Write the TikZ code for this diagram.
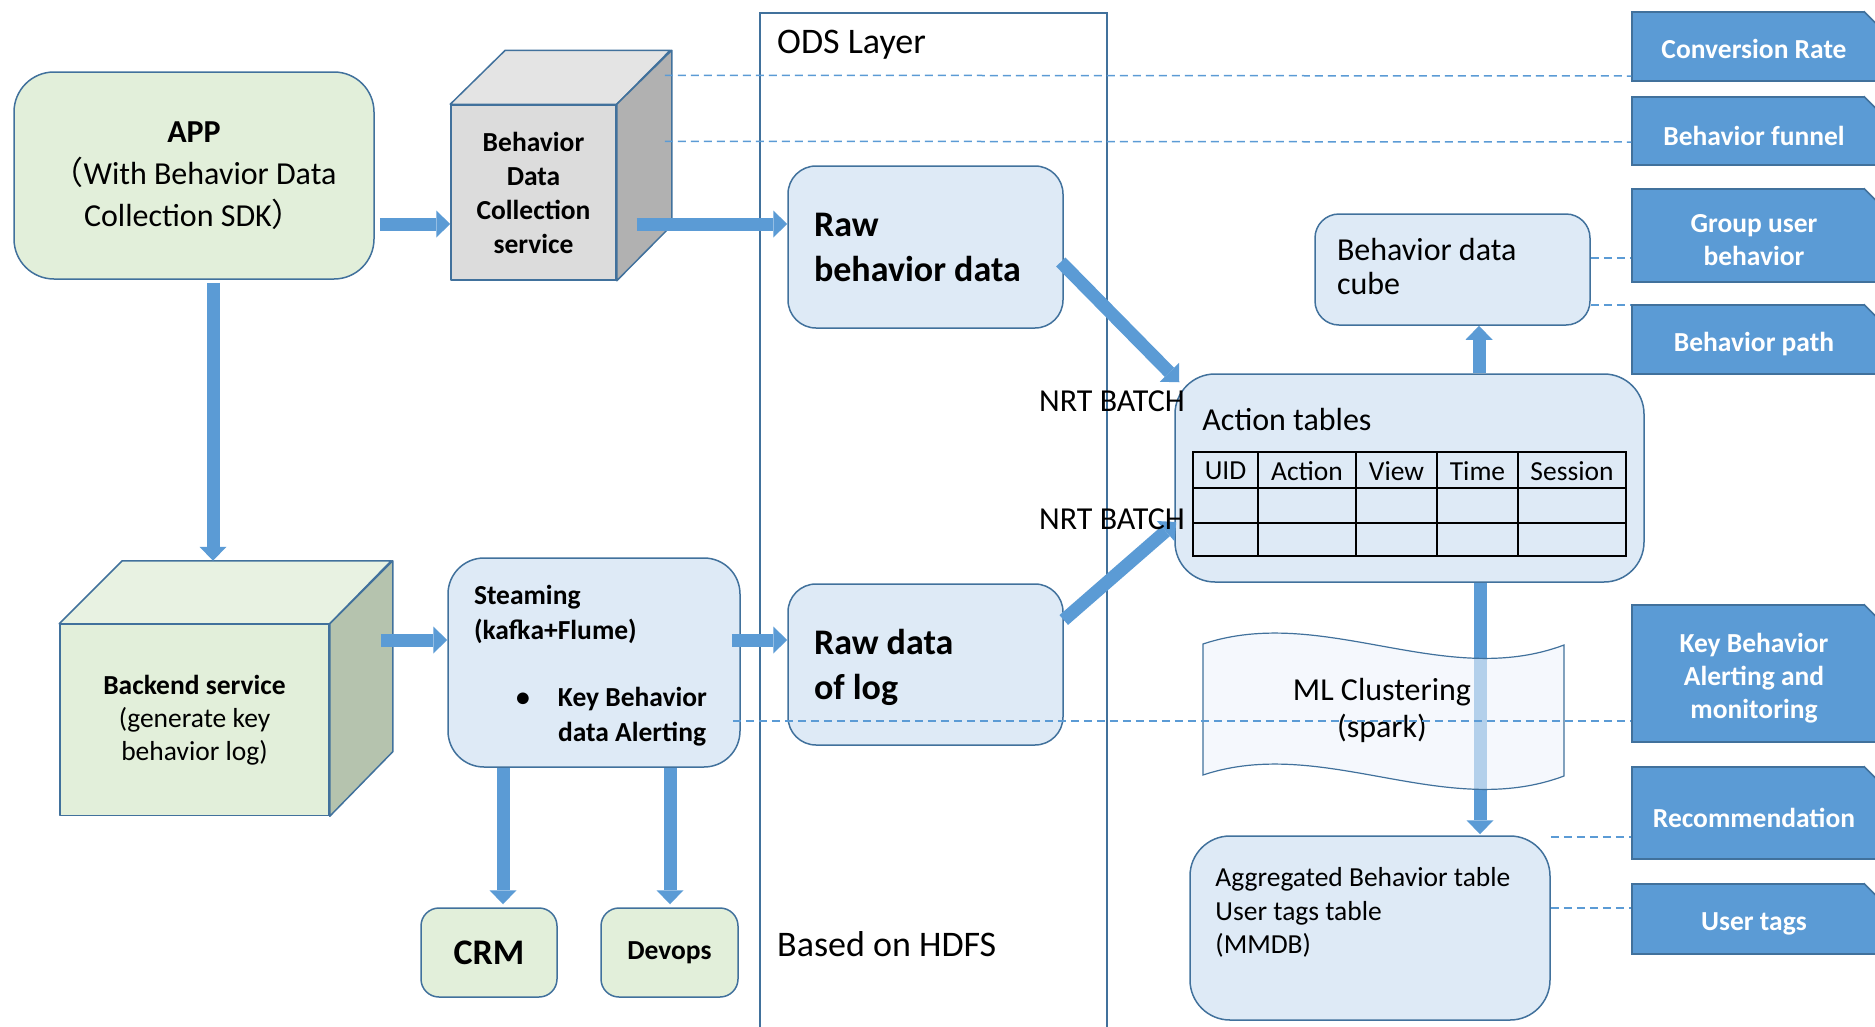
\documentclass[tikz,border=0pt]{standalone}
\usepackage{fontspec}
\setmainfont{Carlito}
\newfontfamily\cjk{Noto Sans CJK SC}
\usetikzlibrary{arrows.meta}

\definecolor{edgeblue}{HTML}{41719C}
\definecolor{flowblue}{HTML}{5B9BD5}
\definecolor{boxblue}{HTML}{DEEAF6}
\definecolor{boxgreen}{HTML}{E2EFDA}
\definecolor{topgreen}{HTML}{E8F2E2}
\definecolor{sidegreen}{HTML}{B5C3AE}
\definecolor{frontgray}{HTML}{DCDCDC}
\definecolor{topgray}{HTML}{E4E4E4}
\definecolor{sidegray}{HTML}{B1B1B1}
\definecolor{mlfill}{HTML}{EEF4FB}

\newcommand{\fsmall}{\fontsize{27.5pt}{33pt}\selectfont}
\newcommand{\fmid}{\fontsize{32pt}{35pt}\selectfont}
\newcommand{\fbig}{\fontsize{36pt}{45pt}\selectfont}

\tikzset{
  box/.style={draw=edgeblue, line width=1.5pt, fill=boxblue, rounded corners=28pt},
  greenbox/.style={box, fill=boxgreen},
  face/.style={draw=edgeblue, line width=1.5pt, line join=round},
  metric/.style={draw=edgeblue, line width=1.5pt, fill=flowblue,
    minimum width=244pt, inner sep=0pt},
  mtext/.style={text=white, font=\fsmall\bfseries, align=center, inner sep=0pt, yshift=-5pt},
  flow/.style={draw=flowblue, line width=13pt,
    -{Triangle[width=27pt,length=14pt,line width=0pt]}},
  link/.style={draw=flowblue, line width=1.5pt, dash pattern=on 8pt off 5pt},
  txt/.style={inner sep=0pt}
}

\begin{document}
\begin{tikzpicture}[x=1pt,y=-1pt]
  \useasboundingbox (0,0) rectangle (1875,1026);
  \clip (0,0) rectangle (1875,1026);

  % ODS layer frame
  \node[draw=edgeblue, line width=1.5pt, minimum width=347pt, minimum height=1040pt,
    anchor=north west, inner sep=0pt] (ods) at (759,12) {};

  % sources
  \node[greenbox, rounded corners=40pt, minimum width=360pt, minimum height=207pt,
    align=center, font=\fontsize{32pt}{42pt}\selectfont] (app) at (194,175.5)
    {\textbf{APP}\\{\cjk （}With Behavior Data\\Collection SDK{\cjk ）}};

  \node[face, fill=frontgray, minimum width=165pt, minimum height=175pt,
    align=center, font=\fontsize{27.5pt}{34pt}\selectfont\bfseries, inner sep=0pt] (bdc) at (533.5,192.5)
    {Behavior\\Data\\Collection\\service};
  \filldraw[face, fill=topgray] (bdc.north west) -- ++(55,-54) -- ++(165,0) -- (bdc.north east) -- cycle;
  \filldraw[face, fill=sidegray] (bdc.north east) -- ++(55,-54) -- ++(0,175) -- (bdc.south east) -- cycle;

  \node[face, fill=boxgreen, minimum width=269pt, minimum height=191pt,
    align=center, font=\fontsize{27.5pt}{33pt}\selectfont, inner sep=0pt] (backend) at (194.5,720)
    {\textbf{Backend service}\\(generate key\\behavior log)};
  \filldraw[face, fill=topgreen] (backend.north west) -- ++(63,-63) -- ++(269,0) -- (backend.north east) -- cycle;
  \filldraw[face, fill=sidegreen] (backend.north east) -- ++(63,-63) -- ++(0,191) -- (backend.south east) -- cycle;

  \node[box, rounded corners=36pt, minimum width=292pt, minimum height=209pt,
    text width=240pt, inner xsep=26pt, align=flush left, text depth=135pt,
    font=\fontsize{27.5pt}{35pt}\selectfont\bfseries] (steam) at (594,662.5)
    {Steaming\\(kafka+Flume)\\[32pt]\hspace*{42pt}\makebox[42pt][l]{\textbullet}Key Behavior\\\hspace*{84pt}data Alerting};

  \node[greenbox, rounded corners=18pt, minimum width=136pt, minimum height=89pt,
    font=\fbig\bfseries] (crm) at (489,952.5) {CRM};
  \node[greenbox, rounded corners=18pt, minimum width=137pt, minimum height=89pt,
    font=\fsmall\bfseries] (devops) at (669.5,952.5) {Devops};

  % ODS data
  \node[box, minimum width=275pt, minimum height=162pt, text width=223pt,
    inner xsep=26pt, align=flush left, text depth=45pt, font=\fbig\bfseries] (rawb) at (925.5,247)
    {Raw\\behavior data};
  \node[box, minimum width=275pt, minimum height=161pt, text width=223pt,
    inner xsep=26pt, align=flush left, text depth=45pt, font=\fbig\bfseries] (rawlog) at (925.5,664.5)
    {Raw data\\of log};

  % warehouse side
  \node[box, rounded corners=40pt, minimum width=469pt, minimum height=208pt] (actions) at (1409.5,478) {};
  \node[txt, anchor=west, font=\fmid] (acttitle) at ([xshift=28pt,yshift=-46pt]actions.north west) {Action tables};
  \draw[line width=2pt] (1193,452) rectangle (1626,556);
  \foreach \y in {488,523} \draw[line width=2pt] (1193,\y) -- (1626,\y);
  \foreach \x in {1258,1356,1437,1518} \draw[line width=2pt] (\x,452) -- (\x,556);
  \foreach \x/\t [count=\i] in {1225.5/UID,1307/Action,1396.5/View,1477.5/Time,1572/Session}
    \node[txt, font=\fsmall] (hd\i) at (\x,471) {\t};

  \node[box, rounded corners=24pt, minimum width=275pt, minimum height=111pt,
    text width=231pt, inner xsep=22pt, align=flush left, font=\fontsize{32pt}{34pt}\selectfont,
    text depth=41pt] (bcube) at (1452.5,269.5)
    {Behavior data\\cube};

  \node[box, rounded corners=40pt, minimum width=360pt, minimum height=184pt] (agg) at (1370,928) {};
  \node[txt, anchor=north west, align=flush left, font=\fontsize{27.5pt}{33.5pt}\selectfont] (aggtxt)
    at ([xshift=26pt,yshift=-32pt]agg.north west)
    {Aggregated Behavior table\\User tags table\\(MMDB)};

  % applications
  \node[metric, minimum height=69pt, label={[mtext,yshift=2.5pt]center:Conversion Rate}] (conv) at (1754,46.5) {};
  \node[metric, minimum height=68pt, label={[mtext]center:Behavior funnel}] (funnel) at (1754,131) {};
  \node[metric, minimum height=93pt, label={[mtext]center:Group user\\behavior}] (group) at (1754,235.5) {};
  \node[metric, minimum height=69pt, label={[mtext]center:Behavior path}] (bpath) at (1754,339.5) {};
  \node[metric, minimum height=137pt, label={[mtext]center:Key Behavior\\Alerting and\\monitoring}] (keyb) at (1754,673.5) {};
  \node[metric, minimum height=92pt, label={[mtext]center:Recommendation}] (recom) at (1754,813) {};
  \node[metric, minimum height=70pt, label={[mtext]center:User tags}] (tags) at (1754,919) {};
  \foreach \n in {conv,funnel,group,bpath,keyb,recom,tags} {
    \fill[white] ([xshift=-13pt]\n.north east) -- ([xshift=-13pt,yshift=2pt]\n.north east)
      -- ([xshift=2pt,yshift=2pt]\n.north east) -- ([xshift=2pt,yshift=-13pt]\n.north east)
      -- ([yshift=-13pt]\n.north east) -- cycle;
    \draw[edgeblue, line width=1.5pt] ([xshift=-13pt]\n.north east) -- ([yshift=-13pt]\n.north east);
  }

  % flows
  \draw[flow] ([xshift=5pt,yshift=-48.5pt]app.east) -- ([yshift=-31.5pt]bdc.west);
  \draw[flow] ([xshift=20pt,yshift=-31.5pt]bdc.east) -- ([yshift=23pt]rawb.west);
  \draw[flow] ([xshift=19pt,yshift=-3pt]app.south) -- ([xshift=18.5pt,yshift=63pt]backend.north);
  \draw[flow] ([xshift=51pt,yshift=80pt]backend.east) -- ([yshift=22.5pt]steam.west);
  \draw[flow] ([xshift=-9pt,yshift=22.5pt]steam.east) -- ([yshift=24.5pt]rawlog.west);
  \draw[flow] ([xshift=-91pt]steam.south) -- ([xshift=14pt,yshift=3pt]crm.north);
  \draw[flow] ([xshift=76pt]steam.south) -- ([xshift=0.5pt,yshift=3pt]devops.north);
  \draw[flow] ([xshift=-3pt,yshift=-15pt]rawb.east) -- ([xshift=5pt,yshift=-9pt]actions.north west);
  \draw[flow] ([yshift=44.5pt]rawlog.east) -- ([xshift=2pt,yshift=-44pt]actions.west);
  \draw[flow] ([xshift=69.5pt]actions.north) -- ([xshift=26.5pt]bcube.south);
  \draw[flow] ([xshift=70.5pt]actions.south) -- ([xshift=110pt,yshift=1pt]agg.north);

  % ML clustering tape
  \filldraw[draw=edgeblue, line width=1.2pt, fill=mlfill, fill opacity=0.6]
    (1203,644) .. controls (1323,604) and (1444,690) .. (1564,645) -- (1564,776)
    .. controls (1444,821) and (1323,735) .. (1203,775) -- cycle;
  \node[txt, align=center, font=\fontsize{32pt}{37pt}\selectfont] (ml) at (1382,710) {ML Clustering\\(spark)};

  % dashed links
  \draw[link] ([xshift=48pt,yshift=29pt]bdc.north east) -- ([yshift=-29.5pt]conv.west);
  \draw[link] ([xshift=48pt,yshift=-37pt]bdc.north east) -- ([yshift=-11pt]funnel.west);
  \draw[link] ([yshift=11.5pt]bcube.east) -- ([yshift=-22.5pt]group.west);
  \draw[link] ([yshift=-35.5pt]bcube.east) -- ([yshift=34.5pt]bpath.west);
  \draw[link] ([xshift=-8pt,yshift=-58.5pt]steam.east) -- ([yshift=-47.5pt]keyb.west);
  \draw[link] ([yshift=91pt]agg.east) -- ([yshift=-24pt]recom.west);
  \draw[link] ([yshift=20pt]agg.east) -- ([yshift=11pt]tags.west);

  % labels
  \node[txt, font=\fmid] (nrt1) at (1112,401) {NRT BATCH};
  \node[txt, font=\fmid] (nrt2) at (1112,519) {NRT BATCH};
  \node[txt, anchor=base west, font=\fbig] (odstitle) at (777,53) {ODS Layer};
  \node[txt, anchor=base west, font=\fbig] (hdfs) at (777,956) {Based on HDFS};
\end{tikzpicture}
\end{document}
